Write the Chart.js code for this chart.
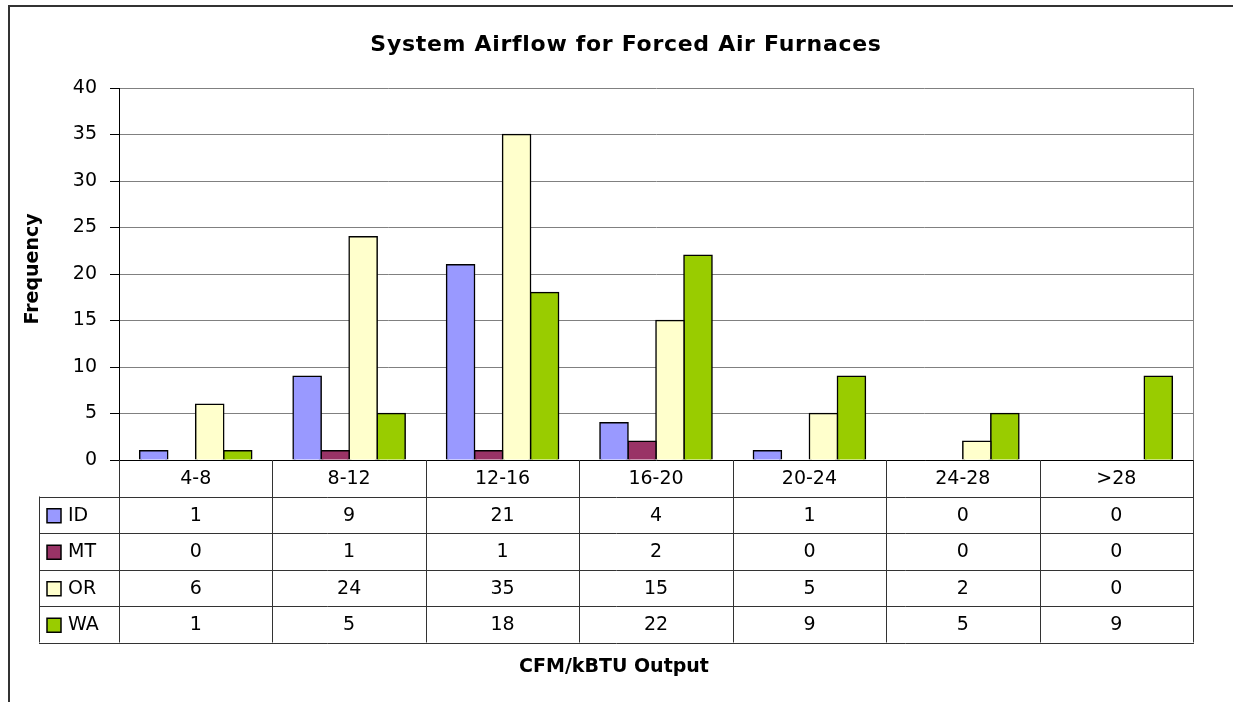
<!DOCTYPE html>
<html lang="en">
<head>
    <meta charset="UTF-8">
    <title>System Airflow for Forced Air Furnaces</title>
    <style>
        body {
            margin: 0;
            background: #FFFFFF;
        }

        .chart-container {
            width: 1233px;
            height: 702px;
        }
    </style>
</head>
<body>
    <div class="chart-container">
        <canvas id="airflowChart" width="1233" height="702"></canvas>
    </div>

    <script src="https://cdn.jsdelivr.net/npm/chart.js"></script>
    <script>
        const categories = ['4-8', '8-12', '12-16', '16-20', '20-24', '24-28', '>28'];
        const idValues = [1, 9, 21, 4, 1, 0, 0];
        const mtValues = [0, 1, 1, 2, 0, 0, 0];
        const orValues = [6, 24, 35, 15, 5, 2, 0];
        const waValues = [1, 5, 18, 22, 9, 5, 9];
        const yTicks = [0, 5, 10, 15, 20, 25, 30, 35, 40];

        const chartTitle = 'System Airflow for Forced Air Furnaces';
        const yTitle = 'Frequency';
        const xTitle = 'CFM/kBTU Output';

        const FONT = "'DejaVu Sans', Verdana, sans-serif";

        // draws the frame, titles and the data table under the x axis
        const tablePlugin = {
            id: 'dataTable',
            afterDraw(chart) {
                const ctx = chart.ctx;
                const area = chart.chartArea;
                const x = chart.scales.x;
                const half = (x.getPixelForValue(1) - x.getPixelForValue(0)) / 2;
                const rowH = 36.5;
                const tableTop = area.bottom;
                const legendLeft = 39;

                ctx.save();

                // outer frame (left + top only, rest is off the picture)
                ctx.strokeStyle = '#333333';
                ctx.lineWidth = 2;
                ctx.beginPath();
                ctx.moveTo(9, 710);
                ctx.lineTo(9, 6);
                ctx.lineTo(1240, 6);
                ctx.stroke();

                // plot area right border
                ctx.strokeStyle = '#808080';
                ctx.lineWidth = 1;
                ctx.beginPath();
                ctx.moveTo(area.right + 0.5, area.top);
                ctx.lineTo(area.right + 0.5, area.bottom);
                ctx.stroke();

                // table grid
                const rows = chart.data.datasets.length;
                const tableBottom = tableTop + rowH * (rows + 1);
                ctx.strokeStyle = '#333333';
                ctx.beginPath();
                for (let i = 0; i <= categories.length; i++) {
                    const px = Math.round(x.getPixelForValue(i) - half) + 0.5;
                    ctx.moveTo(px, tableTop);
                    ctx.lineTo(px, tableBottom);
                }
                for (let r = 1; r <= rows + 1; r++) {
                    const py = Math.round(tableTop + rowH * r) + 0.5;
                    ctx.moveTo(legendLeft, py);
                    ctx.lineTo(area.right + 1, py);
                }
                ctx.moveTo(legendLeft + 0.5, tableTop + rowH);
                ctx.lineTo(legendLeft + 0.5, tableBottom);
                ctx.stroke();

                // category labels and values
                ctx.fillStyle = '#000000';
                ctx.font = '19px ' + FONT;
                ctx.textAlign = 'center';
                ctx.textBaseline = 'middle';
                categories.forEach((c, i) => {
                    ctx.fillText(c, x.getPixelForValue(i), tableTop + rowH / 2 + 1);
                });
                chart.data.datasets.forEach((ds, r) => {
                    const cy = tableTop + rowH * (r + 1) + rowH / 2 + 1;
                    ds.data.forEach((v, i) => {
                        ctx.fillText(String(v), x.getPixelForValue(i), cy);
                    });
                    // legend key
                    ctx.fillStyle = ds.backgroundColor;
                    ctx.fillRect(47, cy - 7, 14, 14);
                    ctx.strokeStyle = '#000000';
                    ctx.lineWidth = 1.5;
                    ctx.strokeRect(47, cy - 7, 14, 14);
                    ctx.fillStyle = '#000000';
                    ctx.textAlign = 'left';
                    ctx.fillText(ds.label, 68, cy);
                    ctx.textAlign = 'center';
                });

                // titles
                ctx.font = 'bold 22px ' + FONT;
                ctx.letterSpacing = '0.7px';
                ctx.fillText(chartTitle, 626, 45);
                ctx.font = 'bold 19px ' + FONT;
                ctx.letterSpacing = '0px';
                ctx.fillText(xTitle, 614, 667);
                ctx.translate(33, 269);
                ctx.rotate(-Math.PI / 2);
                ctx.fillText(yTitle, 0, 0);

                ctx.restore();
            }
        };

        function renderChart() {
            const ctx = document.getElementById('airflowChart').getContext('2d');
            new Chart(ctx, {
                type: 'bar',
                data: {
                    labels: categories,
                    datasets: [
                        { label: 'ID', data: idValues, backgroundColor: '#9999FF' },
                        { label: 'MT', data: mtValues, backgroundColor: '#993366' },
                        { label: 'OR', data: orValues, backgroundColor: '#FFFFCC' },
                        { label: 'WA', data: waValues, backgroundColor: '#99CC00' }
                    ].map(d => Object.assign(d, {
                        borderColor: '#000000',
                        borderWidth: 1.5,
                        inflateAmount: 0.8,
                        categoryPercentage: 0.73,
                        barPercentage: 1
                    }))
                },
                options: {
                    responsive: false,
                    animation: false,
                    layout: {
                        padding: { top: 88, right: 40, bottom: 60, left: 0 }
                    },
                    plugins: {
                        legend: { display: false },
                        title: { display: false },
                        tooltip: { enabled: false }
                    },
                    scales: {
                        x: {
                            ticks: { display: false },
                            grid: { display: false },
                            border: { color: '#000000', width: 1 },
                            afterFit: s => { s.height = 182; }
                        },
                        y: {
                            min: 0,
                            max: 40,
                            afterBuildTicks: s => { s.ticks = yTicks.map(v => ({ value: v })); },
                            ticks: {
                                color: '#000000',
                                padding: 13,
                                font: { family: FONT, size: 19 }
                            },
                            grid: { color: '#808080', tickLength: 9, tickColor: '#000000' },
                            border: { color: '#000000', width: 1 },
                            afterFit: s => { s.width = 119; }
                        }
                    }
                },
                plugins: [tablePlugin]
            });
        }

        renderChart();
    </script>
</body>
</html>
